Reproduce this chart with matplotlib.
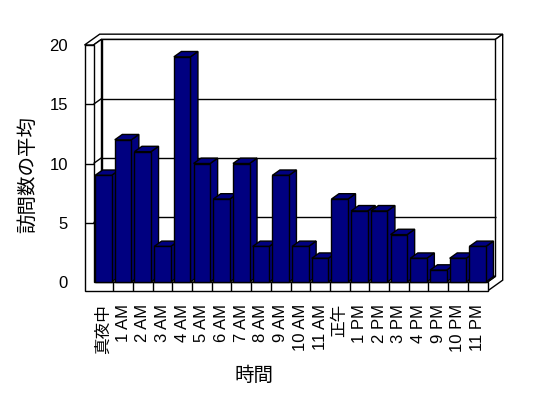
import matplotlib
matplotlib.use("Agg")
import matplotlib.pyplot as plt
from matplotlib.patches import Polygon

plt.rcParams['font.family'] = ['Liberation Sans', 'Noto Sans CJK JP', 'DejaVu Sans']

categories = ["真夜中", "1 AM", "2 AM", "3 AM", "4 AM", "5 AM", "6 AM", "7 AM",
              "8 AM", "9 AM", "10 AM", "11 AM", "正午", "1 PM", "2 PM", "3 PM",
              "4 PM", "9 PM", "10 PM", "11 PM"]
values = [9, 12, 11, 3, 19, 10, 7, 10, 3, 9, 3, 2, 7, 6, 6, 4, 2, 1, 2, 3]
yticks = [0, 5, 10, 15, 20]
ylabel = "訪問数の平均"
xlabel = "時間"

W, H = 548, 398
fig = plt.figure(figsize=(W / 100, H / 100), dpi=100)
fig.patch.set_facecolor('white')

n = len(categories)
ymax = yticks[-1]
left_px, right_px, bottom_px, top_px = 93.5, 487.5, 282, 45
ax = fig.add_axes([left_px / W, (H - bottom_px) / H,
                   (right_px - left_px) / W, (bottom_px - top_px) / H])
ax.set_xlim(0, n)
ax.set_ylim(0, ymax)
ax.set_facecolor('none')
for s in ax.spines.values():
    s.set_visible(False)

sx = (right_px - left_px) / n        # px per category
sy = (bottom_px - top_px) / ymax     # px per unit
DX, DY = 8 / sx, 5.7 / sy            # depth offset (per unit depth)
TX, TY = 9 / sx, 9 / sy              # wall / floor thickness
ZB = 0.9                             # back wall thickness (depth units)
ZBAR = 0.94                          # bar depth


def P(x, y, z):
    return (x + DX * z, y + DY * z)


def poly(pts, fc='white', z=1, lw=1.0):
    ax.add_patch(Polygon(pts, closed=True, facecolor=fc, edgecolor='black',
                         linewidth=lw, zorder=z, clip_on=False,
                         joinstyle='miter'))


def line(p, q, z=2):
    ax.plot([p[0], q[0]], [p[1], q[1]], color='black', lw=1.0, zorder=z,
            clip_on=False, solid_capstyle='butt')


# back wall inner face
poly([P(0, 0, 1), P(n, 0, 1), P(n, ymax, 1), P(0, ymax, 1)])
# top of walls
poly([P(-TX, ymax, 0), P(-TX, ymax, 1 + ZB), P(n, ymax, 1 + ZB),
      P(n, ymax, 1), P(0, ymax, 1), P(0, ymax, 0)])
# right side
poly([P(n, ymax, 1), P(n, ymax, 1 + ZB), P(n, -TY, 1 + ZB),
      P(n, -TY, 0), P(n, 0, 0), P(n, 0, 1)])
# floor top
poly([P(0, 0, 0), P(n, 0, 0), P(n, 0, 1), P(0, 0, 1)])
# left wall inner face
poly([P(0, 0, 0), P(0, ymax, 0), P(0, ymax, 1), P(0, 0, 1)])
# front L face (left wall + floor)
poly([P(-TX, ymax, 0), P(0, ymax, 0), P(0, 0, 0), P(n, 0, 0),
      P(n, -TY, 0), P(-TX, -TY, 0)])
# category dividers on floor front
for k in range(1, n):
    line(P(k, 0, 0), P(k, -TY, 0), z=3)
# gridlines
for v in yticks[1:-1]:
    line(P(0, v, 1), P(n, v, 1))
    line(P(0, v, 0), P(0, v, 1))
    line(P(-TX, v, 0), P(0, v, 0))

# bars
navy = '#000080'
xs = [i + 0.5 for i in range(n)]
bw = 0.84
bars = ax.bar(xs, values, width=bw, color=navy, edgecolor='black',
              linewidth=1.0)
for i, (rect, v) in enumerate(zip(bars, values)):
    base = 10 + 3 * i
    x0 = rect.get_x()
    x1 = x0 + rect.get_width()
    poly([P(x1, 0, 0), P(x1, v, 0), P(x1, v, ZBAR), P(x1, 0, ZBAR)],
         fc=navy, z=base)
    poly([P(x0, v, 0), P(x1, v, 0), P(x1, v, ZBAR), P(x0, v, ZBAR)],
         fc=navy, z=base + 1)
    rect.set_zorder(base + 2)
    rect.set_clip_on(False)

# ticks
ax.set_yticks(yticks)
ax.set_yticklabels([str(t) for t in yticks], fontsize=12)
ax.tick_params(axis='y', length=0, pad=18.4)
ax.set_xticks(xs)
ax.set_xticklabels(categories, rotation=90, fontsize=12)
ax.tick_params(axis='x', length=0, pad=15.8)

fig.text(27.5 / W, (H - 175) / H, ylabel, rotation=90, ha='center',
         va='center', fontsize=14, family=['Noto Sans CJK JP'])
fig.text(254.5 / W, (H - 375) / H, xlabel, ha='center', va='center',
         fontsize=14, family=['Noto Sans CJK JP'])

fig.savefig('out.png', dpi=100, facecolor='white')
